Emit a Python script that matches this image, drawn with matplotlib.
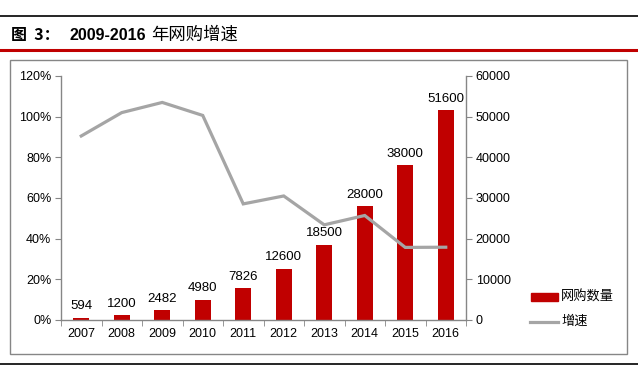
import matplotlib
matplotlib.use("Agg")
import matplotlib.pyplot as plt
from matplotlib.lines import Line2D
from matplotlib.patches import Rectangle
import numpy as np

plt.rcParams["font.family"] = ["Liberation Sans", "Noto Sans CJK SC", "DejaVu Sans"]

years = ["2007", "2008", "2009", "2010", "2011", "2012", "2013", "2014", "2015", "2016"]
buyers = [594, 1200, 2482, 4980, 7826, 12600, 18500, 28000, 38000, 51600]
growth = [90.5, 102.0, 107.0, 100.6, 57.1, 61.0, 46.8, 51.4, 35.7, 35.8]

BAR_RED = "#C00000"
LINE_GRAY = "#A5A5A5"
AXIS_GRAY = "#868686"

W, H = 638, 370
fig = plt.figure(figsize=(W / 100, H / 100), dpi=100)

# page decorations: rules, title, frame
fig.add_artist(Line2D([0, 1], [1 - 16 / H, 1 - 16 / H], color="black", lw=1.2))
fig.add_artist(Line2D([0, 637 / W], [1 - 50 / H, 1 - 50 / H], color=BAR_RED, lw=2.2))
fig.add_artist(Line2D([0, 1], [1 - 364 / H, 1 - 364 / H], color="black", lw=1.2))
fig.text(11 / W, 1 - 35 / H, "图  3：", fontsize=11.5, fontweight="bold",
         family=["Noto Sans CJK SC"], va="center")
fig.text(70 / W, 1 - 35 / H, "2009-2016", fontsize=11.5, fontweight="bold",
         family=["Liberation Sans"], va="center")
fig.text(151 / W, 1 - 35 / H, "年网购增速", fontsize=12.5,
         family=["Noto Sans CJK SC"], va="center")
fig.add_artist(Rectangle((9.5 / W, 1 - 354 / H), 617 / W, 294 / H, fill=False,
                         ec=AXIS_GRAY, lw=1.0, transform=fig.transFigure))

ax = fig.add_axes([61 / W, 1 - 320 / H, 405 / W, 244 / H])
ax2 = ax.twinx()
ax.set_zorder(ax2.get_zorder() + 1)
ax.patch.set_visible(False)

x = np.arange(len(years))
ax2.bar(x, buyers, width=0.39, color=BAR_RED, zorder=2)
for xi, v in zip(x, buyers):
    ax2.text(xi, v + 1300, str(v), ha="center", va="bottom", fontsize=9.5)
ax.plot(x, growth, color=LINE_GRAY, lw=2.3, solid_joinstyle="miter")

ax.set_xlim(-0.5, len(years) - 0.5)
ax.set_ylim(0, 120)
ax2.set_ylim(0, 60000)
ax.set_yticks(np.arange(0, 121, 20))
ax.set_yticklabels([f"{v}%" for v in range(0, 121, 20)])
ax2.set_yticks(np.arange(0, 60001, 10000))
ax.set_xticks(x)
ax.set_xticklabels(years)
ax.set_xticks(np.arange(-0.5, len(years), 1), minor=True)
ax.tick_params(axis="x", which="major", length=0, pad=6, labelsize=9)
ax.tick_params(axis="x", which="minor", length=4, color=AXIS_GRAY)
ax.tick_params(axis="y", length=4, color=AXIS_GRAY, labelsize=9, pad=3)
ax2.tick_params(axis="y", length=4, color=AXIS_GRAY, labelsize=9, pad=3)

for a in (ax, ax2):
    for s in a.spines.values():
        s.set_visible(False)
ax.spines["left"].set_visible(True)
ax.spines["bottom"].set_visible(True)
ax2.spines["right"].set_visible(True)
for s in (ax.spines["left"], ax.spines["bottom"], ax2.spines["right"]):
    s.set_color(AXIS_GRAY)
    s.set_linewidth(1.0)

# legend
fig.add_artist(Rectangle((531 / W, 1 - 301 / H), 27 / W, 8 / H, color=BAR_RED,
                         transform=fig.transFigure))
fig.text(561 / W, 1 - 297 / H, "网购数量", fontsize=9.5, va="center",
         family=["Noto Sans CJK SC"])
fig.add_artist(Line2D([530 / W, 558 / W], [1 - 322 / H, 1 - 322 / H],
                      color=LINE_GRAY, lw=2.3))
fig.text(561 / W, 1 - 321 / H, "增速", fontsize=9.5, va="center",
         family=["Noto Sans CJK SC"])

fig.savefig("out.png", dpi=100)
